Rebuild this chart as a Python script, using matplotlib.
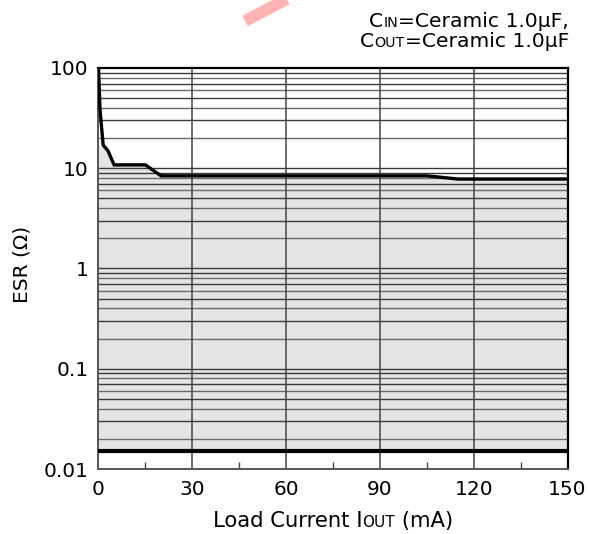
import matplotlib
matplotlib.use("Agg")
import matplotlib.pyplot as plt
import numpy as np
from matplotlib.offsetbox import TextArea, HPacker, VPacker, AnchoredOffsetbox
from matplotlib.lines import Line2D

# ESR stability boundary
load_ma = [0, 0.5, 1.5, 3.0, 5.0, 15.0, 20.0, 105.0, 115.0, 150.0]
esr_upper = [100, 38, 17, 15, 10.8, 10.8, 8.4, 8.4, 7.8, 7.8]
esr_lower = 0.015

x_ticks = [0, 30, 60, 90, 120, 150]
x_minor = [15, 45, 75, 105, 135]
y_ticks = [0.01, 0.1, 1, 10, 100]
y_labels = ["0.01", "0.1", "1", "10", "100"]

plt.rcParams['font.family'] = ['DejaVu Sans']

fig = plt.figure(figsize=(5.89, 5.34), dpi=100)
ax = fig.add_axes([0.1672, 0.1217, 0.7963, 0.7510])

ax.set_yscale("log")
ax.set_xlim(0, 150)
ax.set_ylim(0.01, 100)

# horizontal log grid (every minor step) and vertical lines
for dec in [0.01, 0.1, 1, 10]:
    for m in range(1, 10):
        v = dec * m
        if v <= 0.01 or v >= 100:
            continue
        ax.axhline(v, color="#3a3a3a" if m % 2 else "#6a6a6a", lw=1.0, zorder=1)
for xv in x_ticks[1:-1]:
    ax.axvline(xv, color="#444444", lw=1.1, zorder=1)

# shaded stable region
fill_top = np.minimum(esr_upper, 17)
ax.fill_between(load_ma, esr_lower, fill_top, color="#e4e4e4", zorder=0, lw=0)

ax.plot(load_ma, esr_upper, color="black", lw=2.4, zorder=3, solid_joinstyle="miter")
ax.axhline(esr_lower, color="black", lw=3.0, zorder=3)

ax.set_xticks(x_ticks)
ax.set_xticklabels([str(v) for v in x_ticks], fontsize=14.5)
ax.set_xticks(x_minor, minor=True)
ax.tick_params(axis="x", which="major", length=0, pad=8)
ax.tick_params(axis="x", which="minor", direction="in", length=5, width=1, color="#444444")
ax.set_yticks(y_ticks)
ax.set_yticklabels(y_labels, fontsize=14.5)
ax.yaxis.set_minor_locator(matplotlib.ticker.NullLocator())
ax.tick_params(axis="y", which="major", length=0, pad=7)

for side in ["left", "bottom"]:
    ax.spines[side].set_color("#555555")
    ax.spines[side].set_linewidth(1.4)
for side in ["right", "top"]:
    ax.spines[side].set_color("black")
    ax.spines[side].set_linewidth(1.6)

# y label
fig.text(0.038, 0.505, "ESR (\u03a9)", rotation=90, ha="center", va="center", fontsize=14.5)

# x label with small-caps subscript
def txt(s, size):
    return TextArea(s, textprops=dict(fontsize=size, color="black"))

xlab = HPacker(children=[txt("Load Current I", 15.2), txt("OUT", 11), txt(" (mA)", 15.2)],
               align="baseline", pad=0, sep=0)
fig.add_artist(AnchoredOffsetbox(loc="center", child=xlab, frameon=False, pad=0, borderpad=0,
                                 bbox_to_anchor=(0.565, 0.025), bbox_transform=fig.transFigure))

# condition note top right
line1 = HPacker(children=[txt("C", 14.6), txt("IN", 10.3), txt("=Ceramic 1.0\u00b5F,", 14.6)],
                align="baseline", pad=0, sep=0)
line2 = HPacker(children=[txt("C", 14.6), txt("OUT", 10.3), txt("=Ceramic 1.0\u00b5F", 14.6)],
                align="baseline", pad=0, sep=0)
note = VPacker(children=[line1, line2], align="right", pad=0, sep=1)
fig.add_artist(AnchoredOffsetbox(loc="upper right", child=note, frameon=False, pad=0, borderpad=0,
                                 bbox_to_anchor=(0.966, 0.978), bbox_transform=fig.transFigure))

# pink stroke at the top of the scan
fig.add_artist(Line2D([245 / 589, 300 / 589], [1 - 21 / 534, 1 + 8 / 534],
                      color="#ffb3b3", lw=8.5, solid_capstyle="butt"))

fig.savefig("out.png", dpi=100)
